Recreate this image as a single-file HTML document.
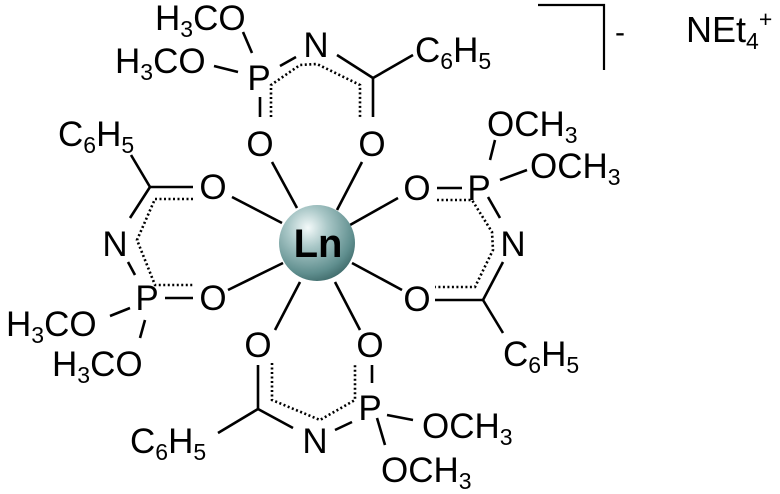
<!DOCTYPE html>
<html><head><meta charset="utf-8"><style>
html,body{margin:0;padding:0;background:#fff;}
svg{display:block;}
text{font-family:"Liberation Sans",Arial,sans-serif;font-size:35px;fill:#000;}
.s{font-size:23px;}
</style></head><body>
<svg width="780" height="494" viewBox="0 0 780 494" xmlns="http://www.w3.org/2000/svg">
<defs>
<radialGradient id="g" cx="0.38" cy="0.3" r="0.75">
<stop offset="0" stop-color="#f4fafa"/>
<stop offset="0.35" stop-color="#a9c7c7"/>
<stop offset="0.8" stop-color="#5f8e8e"/>
<stop offset="1" stop-color="#3f6a6a"/>
</radialGradient>
</defs>
<g stroke="#000" stroke-width="2.6" fill="none" stroke-linecap="butt">
<line x1="243" y1="32" x2="252" y2="53"/>
<line x1="214" y1="66" x2="238" y2="72"/>
<line x1="280" y1="66" x2="296" y2="57"/>
<line x1="337" y1="55" x2="373" y2="78"/>
<line x1="373" y1="78" x2="413" y2="55"/>
<line x1="373" y1="78" x2="373" y2="117"/>
<line x1="260" y1="97" x2="260" y2="117"/>
<line x1="437" y1="188" x2="462" y2="188"/>
<line x1="490" y1="160" x2="495" y2="140"/>
<line x1="500" y1="180" x2="527" y2="170"/>
<line x1="488" y1="197" x2="500" y2="218"/>
<line x1="503" y1="262" x2="483" y2="300"/>
<line x1="435" y1="300" x2="483" y2="300"/>
<line x1="483" y1="300" x2="503" y2="333"/>
<line x1="150" y1="187" x2="131" y2="155"/>
<line x1="150" y1="187" x2="193" y2="187"/>
<line x1="150" y1="187" x2="130" y2="218"/>
<line x1="128" y1="262" x2="135" y2="275"/>
<line x1="165" y1="298" x2="193" y2="298"/>
<line x1="130" y1="308" x2="110" y2="316"/>
<line x1="145" y1="320" x2="140" y2="338"/>
<line x1="258" y1="365" x2="258" y2="409"/>
<line x1="258" y1="409" x2="218" y2="433"/>
<line x1="258" y1="409" x2="293" y2="428"/>
<line x1="335" y1="430" x2="352" y2="422"/>
<line x1="372" y1="365" x2="372" y2="383"/>
<line x1="387" y1="415" x2="413" y2="420"/>
<line x1="377" y1="418" x2="385" y2="445"/>
<line x1="272" y1="162" x2="297" y2="208"/>
<line x1="362" y1="162" x2="337" y2="210"/>
<line x1="232" y1="197" x2="282" y2="223"/>
<line x1="398" y1="198" x2="350" y2="225"/>
<line x1="228" y1="290" x2="283" y2="263"/>
<line x1="402" y1="290" x2="352" y2="263"/>
<line x1="275" y1="330" x2="300" y2="282"/>
<line x1="360" y1="330" x2="335" y2="282"/>
<polyline points="538,5 604,5 604,70" stroke-width="2.2"/>
</g>
<g stroke="#000" stroke-width="2.6" fill="none" stroke-dasharray="2,2.5">
<polyline points="271,117 271,85 300,65 317,64 360,85 360,117"/>
<polyline points="437,200 472,200 492,232 493,250 475,287 435,287"/>
<polyline points="193,199 155,199 137,240 155,285 193,285"/>
<polyline points="272,363 272,400 320,420 355,400 355,363"/>
</g>
<circle cx="317" cy="243" r="38" fill="url(#g)"/>
<text x="318" y="257" text-anchor="middle" style="font-weight:bold;font-size:40px">Ln</text>
<text x="155" y="30">H<tspan class="s" dy="7">3</tspan><tspan dy="-7">CO</tspan></text>
<text x="115" y="73">H<tspan class="s" dy="7">3</tspan><tspan dy="-7">CO</tspan></text>
<text x="259" y="90" text-anchor="middle">P</text>
<text x="316" y="57" text-anchor="middle">N</text>
<text x="415" y="62">C<tspan class="s" dy="7">6</tspan><tspan dy="-7">H</tspan><tspan class="s" dy="7">5</tspan></text>
<text x="260" y="156" text-anchor="middle">O</text>
<text x="372" y="156" text-anchor="middle">O</text>
<text x="417" y="200" text-anchor="middle">O</text>
<text x="479" y="200" text-anchor="middle">P</text>
<text x="487" y="136">OCH<tspan class="s" dy="7">3</tspan></text>
<text x="530" y="178">OCH<tspan class="s" dy="7">3</tspan></text>
<text x="513" y="256" text-anchor="middle">N</text>
<text x="417" y="311" text-anchor="middle">O</text>
<text x="503" y="366">C<tspan class="s" dy="7">6</tspan><tspan dy="-7">H</tspan><tspan class="s" dy="7">5</tspan></text>
<text x="58" y="146">C<tspan class="s" dy="7">6</tspan><tspan dy="-7">H</tspan><tspan class="s" dy="7">5</tspan></text>
<text x="213" y="199" text-anchor="middle">O</text>
<text x="115" y="256" text-anchor="middle">N</text>
<text x="147" y="310" text-anchor="middle">P</text>
<text x="213" y="310" text-anchor="middle">O</text>
<text x="6" y="336">H<tspan class="s" dy="7">3</tspan><tspan dy="-7">CO</tspan></text>
<text x="52" y="376">H<tspan class="s" dy="7">3</tspan><tspan dy="-7">CO</tspan></text>
<text x="258" y="357" text-anchor="middle">O</text>
<text x="370" y="357" text-anchor="middle">O</text>
<text x="130" y="453">C<tspan class="s" dy="7">6</tspan><tspan dy="-7">H</tspan><tspan class="s" dy="7">5</tspan></text>
<text x="315" y="453" text-anchor="middle">N</text>
<text x="370" y="420" text-anchor="middle">P</text>
<text x="422" y="438">OCH<tspan class="s" dy="7">3</tspan></text>
<text x="381" y="482">OCH<tspan class="s" dy="7">3</tspan></text>
<text x="615" y="42" style="font-size:30px">-</text>
<text x="686" y="42" style="font-size:36px">NEt<tspan class="s" dy="7">4</tspan><tspan class="s" dy="-22">+</tspan></text>
</svg>
</body></html>
